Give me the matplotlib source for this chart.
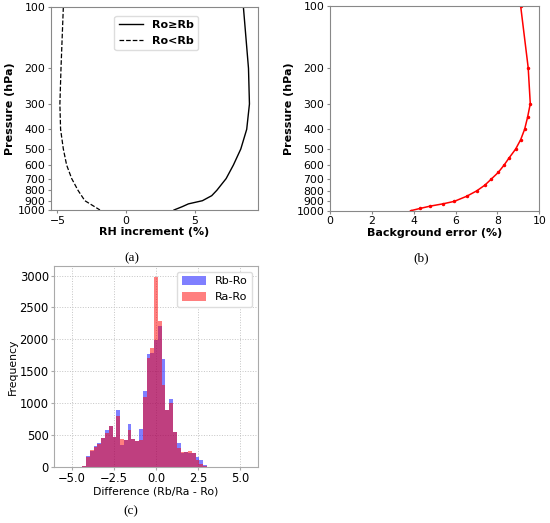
import numpy as np
import matplotlib
matplotlib.use("Agg")
import matplotlib.pyplot as plt

# panel (a): RH increment profiles
p_a = [100, 200, 300, 400, 500, 600, 700, 800, 850, 900, 933, 963, 1000]
rh_ge = [8.56, 8.93, 9.0, 8.8, 8.37, 7.83, 7.3, 6.62, 6.25, 5.57, 4.55, 4.1, 3.5]
p_d = [100, 200, 300, 400, 500, 600, 700, 800, 900, 944, 1000]
rh_lt = [-4.57, -4.74, -4.82, -4.77, -4.57, -4.33, -3.96, -3.5, -3.0, -2.5, -1.9]

# panel (b): background error
p_b = [100, 200, 300, 350, 400, 450, 500, 550, 600, 650, 700, 750, 800, 850, 900, 925, 950, 975, 1000]
bg_err = [9.11, 9.47, 9.57, 9.44, 9.30, 9.11, 8.87, 8.57, 8.31, 8.04, 7.71, 7.40, 7.01, 6.53, 5.94, 5.41, 4.78, 4.30, 3.85]

# panel (c): histogram counts per bin (49 bins between -5.5 and 5.5)
edges = np.linspace(-5.5, 5.5, 50)
rb_ro = [0, 0, 0, 0, 3, 15, 168, 250, 330, 370, 450, 576, 640, 471, 890, 340, 420, 665, 440, 410,
         592, 1190, 1770, 1790, 1990, 2209, 1686, 890, 1063, 540, 366, 210, 225, 220, 210, 157, 105, 20,
         0, 0, 0, 0, 0, 0, 0, 0, 0, 0, 0]
ra_ro = [0, 0, 0, 0, 3, 15, 147, 262, 314, 356, 445, 524, 640, 471, 796, 430, 420, 576, 440, 400,
         419, 1100, 1700, 1860, 2985, 2288, 1283, 890, 1005, 540, 300, 235, 225, 245, 210, 105, 42, 15,
         0, 0, 0, 0, 0, 0, 0, 0, 0, 0, 0]
centers = (edges[:-1] + edges[1:]) / 2

p_ticks = [100, 200, 300, 400, 500, 600, 700, 800, 900, 1000]

fig = plt.figure(figsize=(5.5, 5.23), dpi=100)
fs = 7.8
spine_col = '#888888'

def profile_axes(ax):
    ax.set_yscale('log')
    ax.set_ylim(1000, 100)
    ax.set_yticks(p_ticks)
    ax.set_yticklabels([str(p) for p in p_ticks])
    ax.yaxis.set_minor_locator(matplotlib.ticker.NullLocator())
    ax.tick_params(labelsize=fs, length=2.5, color=spine_col, pad=1.5)
    for s in ax.spines.values():
        s.set_color(spine_col)
        s.set_linewidth(0.8)
    ax.set_ylabel('Pressure (hPa)', fontsize=8, fontweight='bold', labelpad=2)

ax1 = fig.add_axes([0.0927, 0.5985, 0.3758, 0.3876])
ax1.plot(rh_ge, p_a, color='black', lw=1.0, label='Ro≥Rb')
ax1.plot(rh_lt, p_d, color='black', lw=0.9, ls='--', label='Ro<Rb')
profile_axes(ax1)
ax1.set_xlim(-5.47, 9.6)
ax1.set_xticks([-5, 0, 5])
ax1.set_xlabel('RH increment (%)', fontsize=8, fontweight='bold', labelpad=1)
leg = ax1.legend(loc='upper center', bbox_to_anchor=(0.51, 0.985), prop={'weight': 'bold', 'size': 8},
                 handlelength=2.2, framealpha=1, edgecolor='#dddddd', fancybox=True)

ax2 = fig.add_axes([0.6, 0.5971, 0.3805, 0.3914])
ax2.plot(bg_err, p_b, color='red', lw=1.1, marker='o', markersize=1.5)
profile_axes(ax2)
ax2.set_xlim(0, 10)
ax2.set_xticks([0, 2, 4, 6, 8, 10])
ax2.set_xlabel('Background error (%)', fontsize=8, fontweight='bold', labelpad=1)

ax3 = fig.add_axes([0.0987, 0.1076, 0.3698, 0.3837])
ax3.hist(centers, bins=edges, weights=rb_ro, color='blue', alpha=0.5, label='Rb-Ro')
ax3.hist(centers, bins=edges, weights=ra_ro, color='red', alpha=0.5, label='Ra-Ro')
ax3.set_xlim(-6.05, 6.05)
ax3.set_ylim(0, 3150)
ax3.set_xticks([-5.0, -2.5, 0.0, 2.5, 5.0])
ax3.set_yticks(np.arange(0, 3001, 500))
ax3.grid(True, ls=':', color='#c4c4c4', lw=0.7)
ax3.set_axisbelow(True)
ax3.tick_params(labelsize=8.3, length=2.5, color='#aaaaaa', pad=1.5)
for s in ax3.spines.values():
    s.set_color('#aaaaaa')
ax3.set_xlabel('Difference (Rb/Ra - Ro)', fontsize=7.8, labelpad=1)
ax3.set_ylabel('Frequency', fontsize=7.8, labelpad=1)
ax3.legend(loc='upper right', fontsize=8, framealpha=1, edgecolor='#dddddd', handlelength=2.2,
           handleheight=0.9)

cap = dict(fontsize=9.5, family='Liberation Serif', ha='center', va='center')
fig.text(131.5 / 550, 1 - 258 / 523, '(a)', **cap)
fig.text(421 / 550, 1 - 258 / 523, '(b)', **cap)
fig.text(131 / 550, 1 - 511 / 523, '(c)', **cap)

fig.savefig('out.png', dpi=100, facecolor='white')
